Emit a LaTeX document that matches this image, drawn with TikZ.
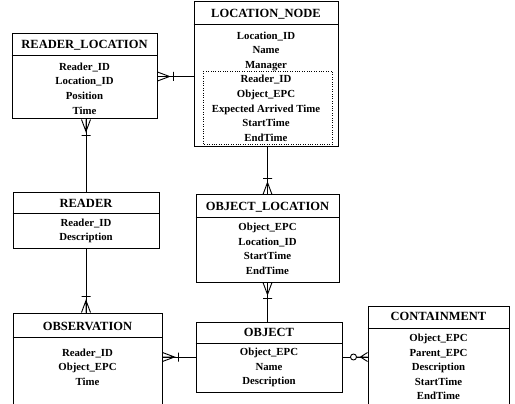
\documentclass[tikz,border=0pt]{standalone}
\usepackage{fontspec}
\setmainfont{Liberation Serif}
\begin{document}
\begin{tikzpicture}[x=1pt,y=-1pt,
    entity/.style={draw,line width=1pt,inner sep=0pt},
    title/.style={font=\bfseries\fontsize{12.5}{14}\selectfont,inner sep=0pt},
    attr/.style={font=\bfseries\fontsize{10.8}{14.6}\selectfont,align=center,inner sep=0pt},
    link/.style={line width=0.9pt},
    crowbar/.pic={\draw[link] (0,-4.5) -- (12,0) -- (0,4.5) (0,0) -- (12,0) (16,-4.5) -- (16,4.5);},
    crowring/.pic={\draw[link] (0,-4.5) -- (7,0) -- (0,4.5) (0,0) -- (11,0);
                   \draw[link,fill=white] (14,0) circle (3pt);}]
    \useasboundingbox (0,0) rectangle (515,404);
    % entities
    \node[entity,minimum width=145,minimum height=85] (rl) at (84.5,76.5) {};
    \node[entity,minimum width=144,minimum height=145] (ln) at (266,74.5) {};
    \node[entity,minimum width=146,minimum height=55] (rd) at (86,220.5) {};
    \node[entity,minimum width=143,minimum height=87] (ol) at (267.5,238.5) {};
    \node[entity,minimum width=149,minimum height=100] (obs) at (87.5,363) {};
    \node[entity,minimum width=146,minimum height=70] (obj) at (269,357) {};
    \node[entity,minimum width=141,minimum height=106] (cont) at (438.5,359) {};
    % header lines
    \draw (rl.west |- 0,55) -- (rl.east |- 0,55);
    \draw (ln.west |- 0,24) -- (ln.east |- 0,24);
    \draw (rd.west |- 0,213) -- (rd.east |- 0,213);
    \draw (ol.west |- 0,217) -- (ol.east |- 0,217);
    \draw (obs.west |- 0,337) -- (obs.east |- 0,337);
    \draw (obj.west |- 0,343) -- (obj.east |- 0,343);
    \draw (cont.west |- 0,328) -- (cont.east |- 0,328);
    \draw[dotted] (203,71) rectangle (332,144);
    % titles
    \node[title] (rlt) at (rl.north |- 0,45) {READER\_LOCATION};
    \node[title] (lnt) at (ln.north |- 0,14) {LOCATION\_NODE};
    \node[title] (rdt) at (rd.north |- 0,203) {READER};
    \node[title] (olt) at (ol.north |- 0,207) {OBJECT\_LOCATION};
    \node[title] (obst) at (obs.north |- 0,326) {OBSERVATION};
    \node[title] (objt) at (obj.north |- 0,332) {OBJECT};
    \node[title] (contt) at (cont.north |- 0,316) {CONTAINMENT};
    % attributes
    \node[attr] (rla) at (rl.north |- 0,88.5) {Reader\_ID\\Location\_ID\\Position\\Time};
    \node[attr] (lna) at (ln.north |- 0,86.5) {Location\_ID\\Name\\Manager\\Reader\_ID\\Object\_EPC\\Expected Arrived Time\\StartTime\\EndTime};
    \node[attr] (rda) at (rd.north |- 0,231) {Reader\_ID\\Description};
    \node[attr] (ola) at (ol.north |- 0,249) {Object\_EPC\\Location\_ID\\StartTime\\EndTime};
    \node[attr] (obsa) at (obs.north |- 0,367) {Reader\_ID\\Object\_EPC\\Time};
    \node[attr] (obja) at (obj.north |- 0,367.5) {Object\_EPC\\Name\\Description};
    \node[attr] (conta) at (cont.north |- 0,367) {Object\_EPC\\Parent\_EPC\\Description\\StartTime\\EndTime};
    % relationships
    \draw[link] (rl.east) -- (rl.east -| ln.west);
    \pic at (rl.east) {crowbar};
    \draw[link] (rd.north |- rl.south) -- (rd.north);
    \pic[rotate=-90] at (rd.north |- rl.south) {crowbar};
    \draw[link] (rd.south) -- (rd.south |- obs.north);
    \pic[rotate=90] at (rd.south |- obs.north) {crowbar};
    \draw[link] (obj.west -| obs.east) -- (obj.west);
    \pic at (obj.west -| obs.east) {crowbar};
    \draw[link] (ol.north |- ln.south) -- (ol.north);
    \pic[rotate=90] at (ol.north) {crowbar};
    \draw[link] (ol.south) -- (ol.south |- obj.north);
    \pic[rotate=-90] at (ol.south) {crowbar};
    \draw[link] (obj.east) -- (obj.east -| cont.west);
    \pic[rotate=180] at (obj.east -| cont.west) {crowring};
\end{tikzpicture}
\end{document}
